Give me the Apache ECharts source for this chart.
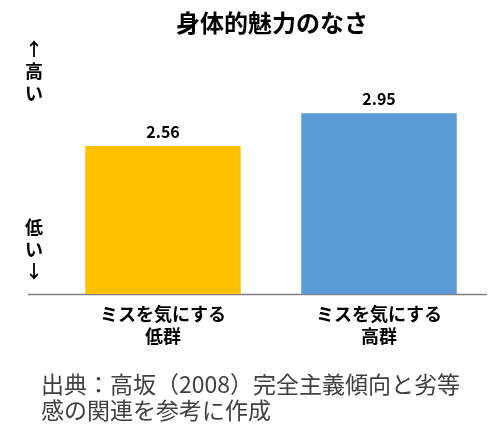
<!DOCTYPE html>
<html>
<head>
<meta charset="utf-8">
<script src="https://cdn.jsdelivr.net/npm/echarts@6/dist/echarts.min.js"></script>
<style>
  html, body { margin: 0; padding: 0; background: #fff; }
  #main { width: 495px; height: 437px; }
</style>
</head>
<body>
<div id="main"></div>
<script>
var categories = ['ミスを気にする\n低群', 'ミスを気にする\n高群'];
var values = [2.56, 2.95];
var barColors = ['#FFC000', '#5B9BD5'];
var axisMin = 0.8;
var axisMax = 3.5;

var font = '"Noto Sans CJK JP", sans-serif';

var myChart = echarts.init(document.getElementById('main'));
var option = {
	animation: false,
	title: [{
		text: '身体的魅力のなさ',
		left: 267,
		top: 6,
		textAlign: 'center',
		textStyle: { fontFamily: font, fontSize: 24, fontWeight: 'bold', color: '#000' }
	}, {
		text: '出典：高坂（2008）完全主義傾向と劣等\n感の関連を参考に作成',
		left: 36,
		top: 366,
		textStyle: { fontFamily: font, fontSize: 23, fontWeight: 'normal', color: '#404040', lineHeight: 26 }
	}],
	grid: {
		left: 55,
		right: 8,
		top: 67,
		bottom: 143
	},
	xAxis: {
		type: 'category',
		data: categories,
		axisLine: { show: false },
		axisTick: { show: false },
		axisLabel: {
			margin: 9,
			fontFamily: font,
			fontSize: 18,
			fontWeight: 'bold',
			color: '#000',
			lineHeight: 22
		}
	},
	yAxis: {
		type: 'value',
		min: axisMin,
		max: axisMax,
		axisLine: { show: false },
		axisTick: { show: false },
		axisLabel: { show: false },
		splitLine: { show: false }
	},
	series: [{
		type: 'bar',
		barWidth: '72%',
		data: values.map(function (v, i) {
			return { value: v, itemStyle: { color: barColors[i] } };
		}),
		label: {
			show: true,
			position: 'top',
			distance: 6,
			fontFamily: font,
			fontSize: 16,
			fontWeight: 'bold',
			color: '#000'
		}
	}],
	graphic: [{
		type: 'line',
		shape: { x1: 28, y1: 294.5, x2: 487, y2: 294.5 },
		style: { stroke: '#808080', lineWidth: 1.5 }
	}, {
		type: 'text',
		left: 25,
		top: 38,
		style: {
			text: '↑\n高\nい',
			font: 'bold 18px ' + font,
			lineHeight: 22,
			fill: '#000',
			textAlign: 'center'
		}
	}, {
		type: 'text',
		left: 25,
		top: 216,
		style: {
			text: '低\nい\n↓',
			font: 'bold 18px ' + font,
			lineHeight: 22,
			fill: '#000',
			textAlign: 'center'
		}
	}]
};
myChart.setOption(option);
</script>
</body>
</html>
